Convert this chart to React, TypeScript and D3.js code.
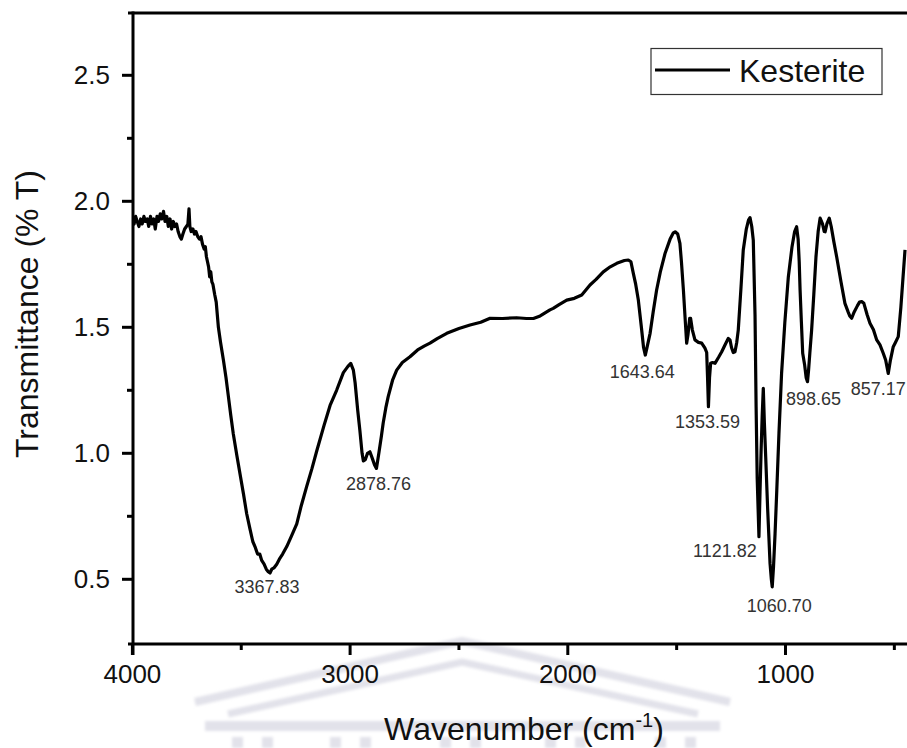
import React from "react";
import * as d3 from "d3";

// FTIR spectrum of the kesterite sample: wavenumber (cm-1) and transmittance
const wavenumbers: number[] = [
  4000, 3992, 3985, 3978, 3970, 3962, 3955, 3947, 3940, 3932, 3925, 3917, 3910, 3902, 3895, 3887,
  3880, 3872, 3865, 3857, 3850, 3842, 3835, 3827, 3820, 3812, 3805, 3797, 3790, 3782, 3775, 3768,
  3760, 3752, 3745, 3740, 3736, 3730, 3722, 3715, 3708, 3700, 3692, 3685, 3678, 3670, 3665, 3660,
  3655, 3650, 3645, 3640, 3635, 3630, 3622, 3615, 3605, 3595, 3582, 3570, 3559, 3548, 3537, 3520,
  3506, 3490, 3475, 3460, 3447, 3437, 3425, 3415, 3406, 3395, 3385, 3376, 3368, 3360, 3350, 3337,
  3325, 3310, 3291, 3270, 3245, 3225, 3199, 3175, 3153, 3120, 3092, 3062, 3031, 3010, 2997, 2985,
  2977, 2965, 2955, 2945, 2939, 2930, 2920, 2909, 2898, 2888, 2879, 2868, 2856, 2848, 2836, 2825,
  2805, 2786, 2760, 2725, 2690, 2660, 2633, 2600, 2556, 2500, 2449, 2400, 2357, 2300, 2235, 2190,
  2158, 2127, 2082, 2067, 2040, 2005, 1970, 1936, 1898, 1870, 1837, 1805, 1775, 1740, 1722, 1710,
  1699, 1688, 1676, 1662, 1652, 1644, 1636, 1622, 1608, 1592, 1575, 1553, 1530, 1515, 1507, 1495,
  1485, 1478, 1469, 1460, 1454, 1448, 1440, 1436, 1428, 1416, 1400, 1385, 1370, 1362, 1358, 1354,
  1349, 1344, 1335, 1324, 1308, 1293, 1278, 1263, 1255, 1248, 1240, 1232, 1224, 1217, 1205, 1194,
  1180, 1170, 1163, 1155, 1148, 1140, 1135, 1130, 1122, 1117, 1112, 1107, 1102, 1097, 1091, 1082,
  1071, 1065, 1061, 1055, 1048, 1040, 1030, 1018, 1003, 987, 970, 958, 949, 942, 937, 933,
  927, 921, 912, 905, 899, 894, 888, 880, 870, 860, 850, 841, 830, 822, 818, 810,
  799, 790, 778, 765, 745, 727, 712, 705, 696, 685, 670, 660, 650, 640, 625, 612,
  596, 581, 566, 551, 540, 528, 518, 505, 495, 482, 470, 460, 451,
];

const transmittance: number[] = [
  1.93, 1.91, 1.94, 1.92, 1.9, 1.93, 1.91, 1.94, 1.92, 1.93, 1.9, 1.94, 1.91, 1.93, 1.89, 1.94,
  1.92, 1.95, 1.93, 1.96, 1.92, 1.94, 1.9, 1.93, 1.89, 1.92, 1.9, 1.91, 1.88, 1.86, 1.85, 1.87,
  1.89, 1.9, 1.91, 1.97, 1.9, 1.88, 1.89, 1.87, 1.88, 1.86, 1.85, 1.86, 1.83, 1.81, 1.82, 1.78,
  1.76, 1.74, 1.7, 1.72, 1.68, 1.67, 1.63, 1.6, 1.5, 1.44, 1.37, 1.3, 1.225, 1.15, 1.08, 0.99,
  0.92, 0.84, 0.76, 0.7, 0.65, 0.63, 0.6, 0.6, 0.575, 0.56, 0.54, 0.53, 0.525, 0.54, 0.545, 0.56,
  0.58, 0.6, 0.63, 0.67, 0.72, 0.79, 0.87, 0.94, 1.01, 1.11, 1.19, 1.25, 1.32, 1.345, 1.357, 1.33,
  1.28, 1.17, 1.09, 1.0, 0.97, 0.975, 1.0, 1.006, 0.98, 0.955, 0.94, 1.0, 1.07, 1.12, 1.18, 1.225,
  1.29, 1.33, 1.36, 1.383, 1.41, 1.425, 1.437, 1.455, 1.476, 1.495, 1.509, 1.52, 1.536, 1.535, 1.538, 1.535,
  1.535, 1.545, 1.569, 1.575, 1.59, 1.608, 1.615, 1.628, 1.668, 1.69, 1.72, 1.74, 1.754, 1.765, 1.767, 1.76,
  1.714, 1.67, 1.608, 1.5, 1.42, 1.39, 1.42, 1.476, 1.56, 1.648, 1.72, 1.794, 1.85, 1.875, 1.879, 1.87,
  1.833, 1.76, 1.648, 1.52, 1.437, 1.47, 1.536, 1.536, 1.49, 1.45, 1.44, 1.437, 1.417, 1.4, 1.3, 1.185,
  1.3, 1.357, 1.36, 1.357, 1.38, 1.403, 1.43, 1.456, 1.45, 1.42, 1.4, 1.403, 1.44, 1.489, 1.65, 1.807,
  1.89, 1.925, 1.935, 1.9, 1.846, 1.55, 1.185, 0.9, 0.669, 0.85, 1.013, 1.15, 1.258, 1.12, 0.987, 0.78,
  0.563, 0.5, 0.47, 0.55, 0.68, 0.854, 1.08, 1.317, 1.52, 1.7, 1.82, 1.88, 1.899, 1.85, 1.76, 1.648,
  1.52, 1.397, 1.35, 1.3, 1.284, 1.33, 1.4, 1.489, 1.63, 1.78, 1.88, 1.933, 1.91, 1.88, 1.879, 1.91,
  1.933, 1.9, 1.84, 1.78, 1.68, 1.595, 1.56, 1.545, 1.536, 1.56, 1.585, 1.6, 1.602, 1.595, 1.55, 1.516,
  1.49, 1.45, 1.43, 1.397, 1.37, 1.317, 1.37, 1.423, 1.44, 1.463, 1.58, 1.7, 1.807,
];

// Peak annotations: printed text and the band minimum it marks
const peakLabels: string[] = [
  "3367.83", "2878.76", "1643.64", "1353.59", "1121.82", "1060.70", "898.65", "857.17",
];
const peakPositions: number[] = [3368, 2879, 1644, 1354, 1122, 1061, 899, 528];

const xTicksMajor: number[] = [4000, 3000, 2000, 1000];
const xTicksMinor: number[] = [3500, 2500, 1500, 500];
const yTicksMajor: number[] = [0.5, 1.0, 1.5, 2.0, 2.5];
const yTicksMinor: number[] = [0.75, 1.25, 1.75, 2.25];

const seriesName = "Kesterite";

// label offsets from each band minimum, in px
const labelOffsets: [number, number][] = [
  [-3, 20], [2, 22], [-3, 23], [-1, 21], [-34, 20], [7, 25], [6, 23], [-10, 22],
];

const W = 907;
const H = 748;
const left = 133;
const top = 13;
const bottom = 644;
const font = "'Liberation Sans', Arial, Helvetica, sans-serif";

export default function App() {
  const x = d3.scaleLinear().domain([4000, 400]).range([132.4, 132.4 + 3600 * 0.2177]);
  const y = d3.scaleLinear().domain([0.25, 2.75]).range([642.3, 12.3]);

  const pts = wavenumbers.map((w, i) => [w, transmittance[i]] as [number, number]);
  const line = d3
    .line<[number, number]>()
    .x((d) => x(d[0]))
    .y((d) => y(d[1]));

  const lookup = (w: number) => {
    const i = wavenumbers.indexOf(w);
    return transmittance[i];
  };

  // faint crest behind the lower axis area
  const wmColor = "#e2e2ea";
  const columns = [232, 262, 330, 360, 440, 470, 545, 575, 655, 685];

  return (
    <svg
      width={W}
      height={H}
      style={{ position: "absolute", left: 0, top: 0, background: "#fff" }}
      fontFamily={font}
    >
      <defs>
        <filter id="soft" x="-5%" y="-20%" width="110%" height="140%">
          <feGaussianBlur stdDeviation={1.5} />
        </filter>
        <clipPath id="plotClip">
          <rect x={left} y={top} width={W - left} height={bottom - top} />
        </clipPath>
      </defs>
      <rect x={0} y={0} width={W} height={H} fill="#fff" />

      <g filter="url(#soft)">
        <polyline points="195,702 462,641 730,702" fill="none" stroke={wmColor} strokeWidth={8} />
        <polyline points="228,714 462,662 698,714" fill="none" stroke={wmColor} strokeWidth={7} />
        <rect x={205} y={721} width={515} height={10} fill={wmColor} />
        {columns.map((c) => (
          <rect key={c} x={c} y={737} width={11} height={11} fill={wmColor} />
        ))}
      </g>

      <path
        d={line(pts) ?? ""}
        fill="none"
        stroke="#000"
        strokeWidth={3.2}
        strokeLinejoin="round"
        clipPath="url(#plotClip)"
      />

      {/* frame */}
      <line x1={128} y1={top} x2={W} y2={top} stroke="#000" strokeWidth={3} />
      <line x1={left} y1={top - 1.5} x2={left} y2={655} stroke="#000" strokeWidth={3} />
      <line x1={128} y1={bottom} x2={W} y2={bottom} stroke="#000" strokeWidth={3} />

      {/* y ticks */}
      {yTicksMajor.map((t) => (
        <g key={"ym" + t}>
          <line x1={left - 11} x2={left} y1={y(t)} y2={y(t)} stroke="#000" strokeWidth={3} />
          <text x={110} y={y(t)} dy="0.35em" textAnchor="end" fontSize={26} fill="#111">
            {t.toFixed(1)}
          </text>
        </g>
      ))}
      {yTicksMinor.map((t) => (
        <line key={"yn" + t} x1={left - 6} x2={left} y1={y(t)} y2={y(t)} stroke="#000" strokeWidth={3} />
      ))}

      {/* x ticks */}
      {xTicksMajor.map((t) => (
        <g key={"xm" + t}>
          <line x1={x(t)} x2={x(t)} y1={bottom} y2={bottom + 11} stroke="#000" strokeWidth={3} />
          <text x={x(t)} y={683} textAnchor="middle" fontSize={26} fill="#111">
            {t}
          </text>
        </g>
      ))}
      {xTicksMinor.map((t) => (
        <line key={"xn" + t} x1={x(t)} x2={x(t)} y1={bottom} y2={bottom + 6} stroke="#000" strokeWidth={3} />
      ))}

      {/* axis titles */}
      <text
        transform="translate(38,314) rotate(-90)"
        textAnchor="middle"
        fontSize={32}
        fill="#111"
      >
        Transmittance (% T)
      </text>
      <text x={524} y={740} textAnchor="middle" fontSize={32} fill="#111">
        Wavenumber (cm
        <tspan fontSize={20} dy={-13}>-1</tspan>
        <tspan dy={13}>)</tspan>
      </text>

      {/* peak labels */}
      {peakLabels.map((lab, i) => {
        const w = peakPositions[i];
        const [dx, dy] = labelOffsets[i];
        return (
          <text
            key={lab}
            x={x(w) + dx}
            y={y(lookup(w)) + dy}
            textAnchor="middle"
            fontSize={18}
            fill="#333"
          >
            {lab}
          </text>
        );
      })}

      {/* legend */}
      <rect x={651} y={48.5} width={231} height={46} fill="#fff" stroke="#333" strokeWidth={1.2} />
      <line x1={655} x2={730} y1={70} y2={70} stroke="#000" strokeWidth={3} />
      <text x={739} y={82} fontSize={32} fill="#111">
        {seriesName}
      </text>
    </svg>
  );
}
